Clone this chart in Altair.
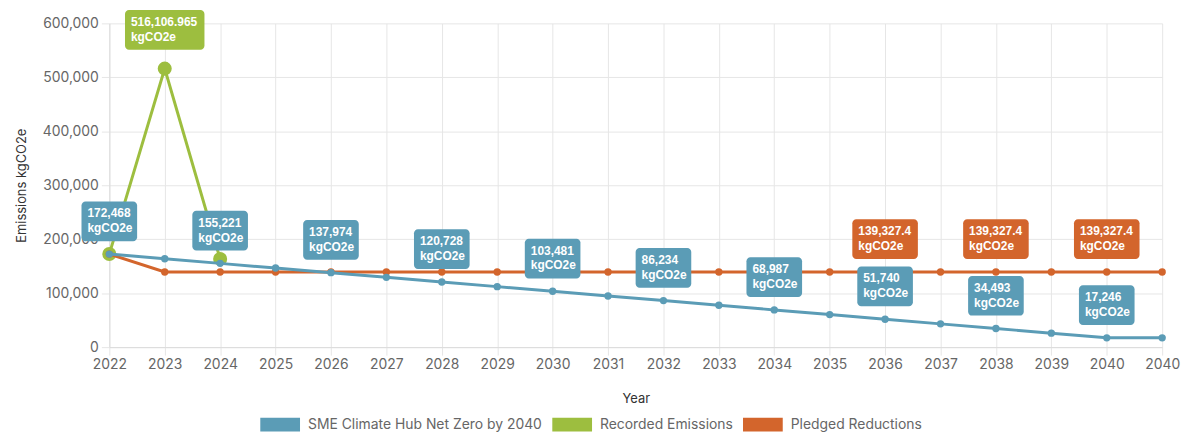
import altair as alt
import pandas as pd

# ---------------- data ----------------
years = ["2022", "2023", "2024", "2025", "2026", "2027", "2028", "2029", "2030",
         "2031", "2032", "2033", "2034", "2035", "2036", "2037", "2038", "2039",
         "2040", "2040"]

net_zero = [172468, 163845, 155221, 146598, 137974, 129351, 120728, 112104,
            103481, 94857, 86234, 77611, 68987, 60364, 51740, 43117, 34493,
            25870, 17246, 17246]

recorded = [172468, 516106.965, 163500]

pledged = [172468, 139327.4, 139327.4, 139327.4, 139327.4, 139327.4, 139327.4,
           139327.4, 139327.4, 139327.4, 139327.4, 139327.4, 139327.4, 139327.4,
           139327.4, 139327.4, 139327.4, 139327.4, 139327.4, 139327.4]

series_names = ["SME Climate Hub Net Zero by 2040", "Recorded Emissions", "Pledged Reductions"]
series_colors = ["#5b9cb6", "#9dbe3f", "#d3652c"]

net_zero_labelled = [0, 2, 4, 6, 8, 10, 12, 14, 16, 18]
recorded_labelled = [1]
pledged_labelled = [14, 16, 18]

y_ticks = [0, 100000, 200000, 300000, 400000, 500000, 600000]

# ---------------- tables ----------------
def table(values, name):
    return pd.DataFrame({"i": list(range(len(values))), "year": years[:len(values)],
                         "value": values, "series": name})

series_values = [net_zero, recorded, pledged]
labelled = [net_zero_labelled, recorded_labelled, pledged_labelled]

color_scale = alt.Scale(domain=series_names, range=series_colors)

x_label_expr = "[" + ",".join("'" + y + "'" for y in years) + "][datum.value]"

x_enc = alt.X("i:Q",
              scale=alt.Scale(domain=[0, len(years) - 1], nice=False, zero=False),
              axis=alt.Axis(values=list(range(len(years))), labelExpr=x_label_expr,
                            title="Year", grid=True, tickSize=8, labelPadding=3,
                            labelFlush=False, labelOverlap=False, titlePadding=21))
y_enc = alt.Y("value:Q",
              scale=alt.Scale(domain=[0, 600000], nice=False),
              axis=alt.Axis(values=y_ticks, format=",.0f", title="Emissions kgCO2e",
                            grid=True, tickSize=8, labelPadding=3, titlePadding=14))

legend = alt.Legend(title=None, orient="none", direction="horizontal",
                    legendX=152, legendY=384,
                    symbolType="M-1,-0.35L1,-0.35L1,0.35L-1,0.35Z",
                    symbolSize=1600, symbolStrokeWidth=0,
                    symbolOpacity=1, labelLimit=400,
                    labelFont="Inter", labelFontSize=14,
                    labelColor="#666666", labelOffset=8, columnPadding=10)

color_enc = alt.Color("series:N", scale=color_scale, legend=legend, sort=series_names)

# drawing order: recorded (green), pledged (red), net zero (blue)
order = [1, 2, 0]
layers = []
for k in order:
    df = table(series_values[k], series_names[k])
    pts = alt.Chart(df).mark_circle(opacity=1, size=(200 if k == 1 else 55)).encode(
        x=x_enc, y=y_enc, color=color_enc,
    )
    line = alt.Chart(df).mark_line(strokeWidth=3).encode(
        x=x_enc, y=y_enc, color=color_enc,
    )
    layers += [line, pts]

# data labels
box_w = {0: 56, 1: 80, 2: 66}
gap = {0: 13, 1: 19, 2: 13}
for k in order:
    vals = series_values[k]
    idx = labelled[k]
    ldf = pd.DataFrame({
        "i": idx,
        "value": [vals[j] for j in idx],
        "label": [f"{vals[j]:,}\nkgCO2e" for j in idx],
        "series": series_names[k],
    })
    w = box_w[k]
    g = gap[k]
    box = alt.Chart(ldf).mark_rect(
        cornerRadius=4, color=series_colors[k],
        xOffset=-w / 2, x2Offset=w / 2, yOffset=-(g + 40), y2Offset=-g,
    ).encode(x=x_enc, x2="i:Q", y=y_enc, y2="value:Q")
    txt = alt.Chart(ldf).mark_text(
        align="left", baseline="top", dx=-w / 2 + 6, dy=-(g + 33),
        lineBreak="\n", lineHeight=15, font="Liberation Sans", fontSize=12,
        fontWeight="bold", color="white",
    ).encode(x=x_enc, y=y_enc, text="label:N")
    layers += [box, txt]

chart = alt.layer(*layers).properties(
    width=1060, height=326,
    autosize=alt.AutoSizeParams(type="none"),
    padding={"left": 102, "top": 14, "right": 24, "bottom": 84},
).configure_view(stroke=None).configure_axis(
    gridColor="#e6e6e6", domainColor="#dcdcdc", tickColor="#e6e6e6",
    labelFont="Inter", labelFontSize=14, labelColor="#666666",
    titleFont="Inter", titleFontSize=13, titleColor="#333333", titleFontWeight="normal",
)

chart.save("out.html", embed_options={"renderer": "svg", "actions": False})
